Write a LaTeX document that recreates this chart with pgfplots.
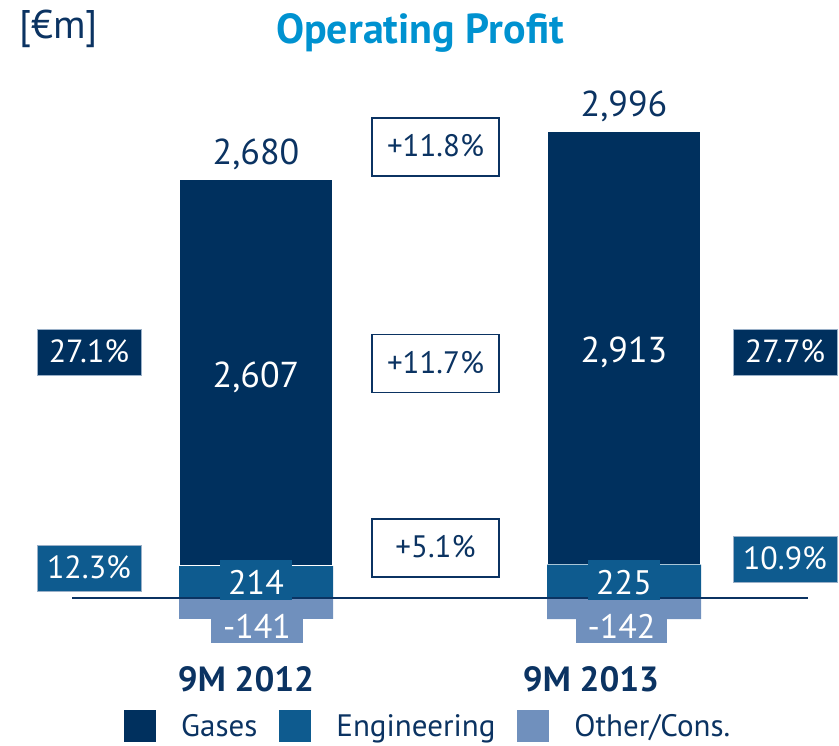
\documentclass[border=0pt]{standalone}
\usepackage{fontspec}
\setmainfont{PT Sans}
\usepackage{pgfplots}
\pgfplotsset{compat=1.18}
\definecolor{gasc}{HTML}{00305E}
\definecolor{engc}{HTML}{0E5B8F}
\definecolor{othc}{HTML}{7090BD}
\definecolor{textc}{HTML}{0B3362}
\definecolor{titlec}{HTML}{0092D0}
\definecolor{boxb}{HTML}{9AB0C8}
\newcommand{\fs}[1]{\fontsize{#1bp}{#1bp}\selectfont}
\pgfplotsset{
  base/.style={at={(0,0)}, anchor=south west, width=839bp, height=746bp,
    scale only axis, xmin=0, xmax=839, ymin=-995.9, ymax=4024,
    hide axis, clip=false, bar width=154bp},
  sqlegend/.style={legend image code/.code={\fill[##1] (0bp,-16bp) rectangle (32bp,16bp);}}
}
\begin{document}
\begin{tikzpicture}[x=1bp,y=1bp]
\useasboundingbox (0,0) rectangle (839,746);
\begin{axis}[base, ybar stacked,
  legend columns=3,
  legend style={draw=none, fill=none, at={(124/839,20/746)}, anchor=west,
    font=\fs{31}, text=textc, inner sep=0pt,
    nodes={inner xsep=0pt, inner ysep=0pt},
    /tikz/every even column/.append style={column sep=22bp},
    /tikz/every odd column/.append style={column sep=25bp}}]
\addlegendimage{fill=gasc, draw=none, sqlegend}
\addlegendentry{Gases}
\addlegendimage{fill=engc, draw=none, sqlegend}
\addlegendentry{Engineering}
\addlegendimage{fill=othc, draw=none, sqlegend}
\addlegendentry{Other/Cons.}
\addplot[fill=engc, draw=none, forget plot] coordinates {(256,214) (624,225)};
\addplot[fill=gasc, draw=white, line width=1.5bp, forget plot] coordinates {(256,2607) (624,2913)};
\end{axis}
\begin{axis}[base, ybar]
\addplot[fill=othc, draw=none] coordinates {(256,-141) (624,-142)};
\end{axis}
% zero line
\draw[textc, line width=1.4bp] (72,148) -- (808,148);
% title and unit
\node[anchor=base, text=titlec, font=\fs{42}\bfseries] at (420,702) {Operating Profit};
\node[anchor=base west, text=textc, font=\fs{40}, inner sep=0pt] at (19,707) {[€m]};
% totals
\node[anchor=base, text=textc, font=\fs{36}] at (256,581) {2,680};
\node[anchor=base, text=textc, font=\fs{36}] at (624,629.5) {2,996};
% gases values
\node[anchor=base, text=white, font=\fs{36}] at (256,358) {2,607};
\node[anchor=base, text=white, font=\fs{36}] at (624,383) {2,913};
% engineering labels
\node[fill=engc, minimum width=72bp, minimum height=43bp, inner sep=0pt] at (256,164.5) {};
\node[fill=engc, minimum width=72bp, minimum height=43bp, inner sep=0pt] at (624,164.5) {};
\node[anchor=base, text=white, font=\fs{34}] at (256,151) {214};
\node[anchor=base, text=white, font=\fs{34}] at (624,151) {225};
% other labels
\node[fill=othc, minimum width=92bp, minimum height=43bp, inner sep=0pt] at (257,124.5) {};
\node[fill=othc, minimum width=91bp, minimum height=43bp, inner sep=0pt] at (621.5,124.5) {};
\node[anchor=base, text=white, font=\fs{34}] at (257,107) {-141};
\node[anchor=base, text=white, font=\fs{34}] at (621.5,107) {-142};
% margin boxes
\node[fill=gasc, draw=boxb, line width=0.8bp, minimum width=104bp, minimum height=46bp, inner sep=0pt] at (89,394) {};
\node[anchor=base, text=white, font=\fs{32}] at (89,383) {27.1\%};
\node[fill=engc, draw=boxb, line width=0.8bp, minimum width=104bp, minimum height=46bp, inner sep=0pt] at (89,178) {};
\node[anchor=base, text=white, font=\fs{32}] at (89,167) {12.3\%};
\node[fill=gasc, draw=boxb, line width=0.8bp, minimum width=104bp, minimum height=46bp, inner sep=0pt] at (785,394) {};
\node[anchor=base, text=white, font=\fs{32}] at (785,383) {27.7\%};
\node[fill=engc, draw=boxb, line width=0.8bp, minimum width=104bp, minimum height=46bp, inner sep=0pt] at (785,186.5) {};
\node[anchor=base, text=white, font=\fs{32}] at (785,176) {10.9\%};
% change boxes
\node[fill=white, draw=textc, line width=1.4bp, minimum width=127bp, minimum height=58bp, inner sep=0pt] at (435.5,599) {};
\node[anchor=base, text=textc, font=\fs{31}] at (435.5,589) {+11.8\%};
\node[fill=white, draw=textc, line width=1.4bp, minimum width=127bp, minimum height=58bp, inner sep=0pt] at (435.5,382.5) {};
\node[anchor=base, text=textc, font=\fs{31}] at (435.5,372) {+11.7\%};
\node[fill=white, draw=textc, line width=1.4bp, minimum width=127bp, minimum height=58bp, inner sep=0pt] at (435.5,198) {};
\node[anchor=base, text=textc, font=\fs{31}] at (435.5,188) {+5.1\%};
% categories
\node[anchor=base, text=textc, font=\fs{35}\bfseries] at (246,54) {9M 2012};
\node[anchor=base, text=textc, font=\fs{35}\bfseries] at (591,54) {9M 2013};
\end{tikzpicture}
\end{document}
